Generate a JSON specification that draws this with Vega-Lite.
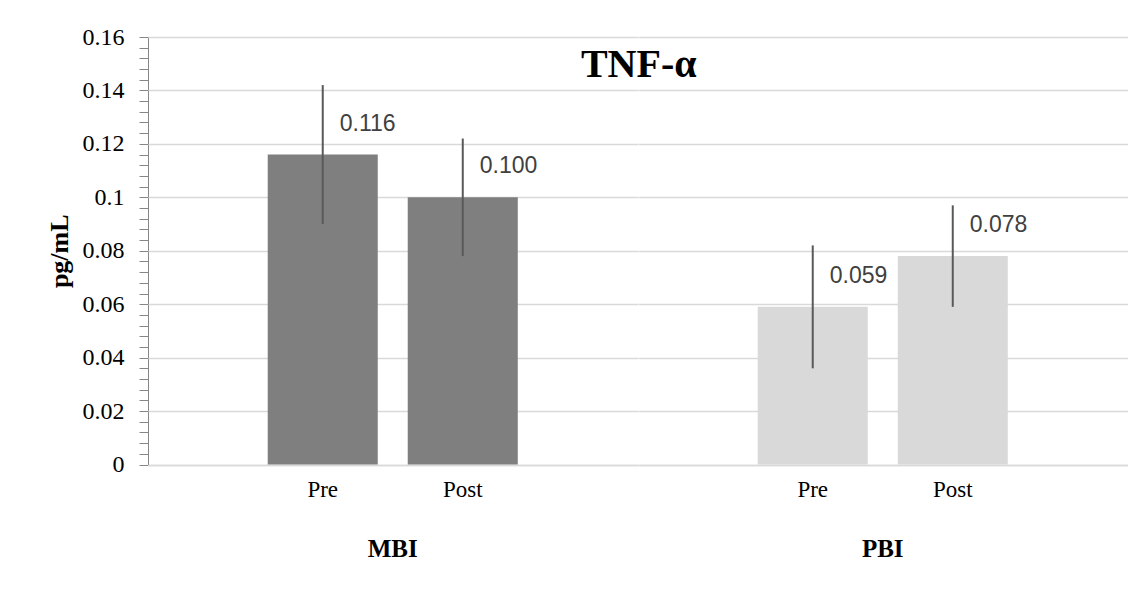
{
  "$schema": "https://vega.github.io/schema/vega-lite/v6.json",
  "padding": {"left": 46, "top": 25, "right": 5, "bottom": 5},
  "background": "white",
  "data": {"values": [
    {"group": "MBI", "cond": "Pre", "mean": 0.116, "lo": 0.090, "hi": 0.142},
    {"group": "MBI", "cond": "Post", "mean": 0.100, "lo": 0.078, "hi": 0.122},
    {"group": "PBI", "cond": "Pre", "mean": 0.059, "lo": 0.036, "hi": 0.082},
    {"group": "PBI", "cond": "Post", "mean": 0.078, "lo": 0.059, "hi": 0.097}
  ]},
  "title": {"text": "TNF-α", "font": "Liberation Serif", "fontSize": 40, "fontWeight": "bold", "color": "#000000", "anchor": "middle", "offset": -60, "dx": 52},
  "facet": {
    "column": {
      "field": "group", "type": "nominal", "sort": ["MBI", "PBI"],
      "header": {"title": null, "labelOrient": "bottom", "labelFont": "Liberation Serif", "labelFontSize": 25, "labelFontWeight": "bold", "labelColor": "#000000", "labelPadding": 36}
    }
  },
  "spacing": 0,
  "spec": {
    "width": 489.5,
    "height": 427.5,
    "encoding": {
      "x": {
        "field": "cond", "type": "nominal", "sort": ["Pre", "Post"],
        "scale": {"paddingInner": 0.214, "paddingOuter": 0.855},
        "axis": {"title": null, "labelAngle": 0, "labelFont": "Liberation Serif", "labelFontSize": 23, "labelColor": "#000000", "ticks": false, "tickSize": 0, "labelPadding": 13, "domainColor": "#d9d9d9", "domainWidth": 1.5}
      }
    },
    "layer": [
      {
        "mark": {"type": "bar"},
        "encoding": {
          "y": {
            "field": "mean", "type": "quantitative", "title": "pg/mL",
            "scale": {"domain": [0, 0.16], "nice": false},
            "axis": {
              "values": [0,0.004,0.008,0.012,0.016,0.02,0.024,0.028,0.032,0.036,0.04,0.044,0.048,0.052,0.056,0.06,0.064,0.068,0.072,0.076,0.08,0.084,0.088,0.092,0.096,0.1,0.104,0.108,0.112,0.116,0.12,0.124,0.128,0.132,0.136,0.14,0.144,0.148,0.152,0.156,0.16],
              "labelExpr": "abs(datum.value*50-round(datum.value*50))<1e-6 ? format(datum.value, '.2~f') : ''",
              "gridOpacity": {"condition": {"test": "abs(datum.value*50-round(datum.value*50))<1e-6", "value": 1}, "value": 0}
            }
          },
          "color": {"field": "group", "type": "nominal", "scale": {"domain": ["MBI", "PBI"], "range": ["#7f7f7f", "#d9d9d9"]}, "legend": null}
        }
      },
      {
        "mark": {"type": "rule", "color": "#595959", "strokeWidth": 2},
        "encoding": {
          "y": {"field": "lo", "type": "quantitative", "title": "pg/mL",
            "axis": {
              "values": [0,0.004,0.008,0.012,0.016,0.02,0.024,0.028,0.032,0.036,0.04,0.044,0.048,0.052,0.056,0.06,0.064,0.068,0.072,0.076,0.08,0.084,0.088,0.092,0.096,0.1,0.104,0.108,0.112,0.116,0.12,0.124,0.128,0.132,0.136,0.14,0.144,0.148,0.152,0.156,0.16],
              "labelExpr": "abs(datum.value*50-round(datum.value*50))<1e-6 ? format(datum.value, '.2~f') : ''",
              "gridOpacity": {"condition": {"test": "abs(datum.value*50-round(datum.value*50))<1e-6", "value": 1}, "value": 0}
            }},
          "y2": {"field": "hi"}
        }
      },
      {
        "mark": {"type": "text", "align": "left", "baseline": "middle", "dx": 17, "dy": -31, "font": "Liberation Sans", "fontSize": 23, "color": "#404040"},
        "encoding": {
          "y": {"field": "mean", "type": "quantitative", "title": "pg/mL",
            "axis": {
              "values": [0,0.004,0.008,0.012,0.016,0.02,0.024,0.028,0.032,0.036,0.04,0.044,0.048,0.052,0.056,0.06,0.064,0.068,0.072,0.076,0.08,0.084,0.088,0.092,0.096,0.1,0.104,0.108,0.112,0.116,0.12,0.124,0.128,0.132,0.136,0.14,0.144,0.148,0.152,0.156,0.16],
              "labelExpr": "abs(datum.value*50-round(datum.value*50))<1e-6 ? format(datum.value, '.2~f') : ''",
              "gridOpacity": {"condition": {"test": "abs(datum.value*50-round(datum.value*50))<1e-6", "value": 1}, "value": 0}
            }},
          "text": {"field": "mean", "type": "quantitative", "format": ".3f"}
        }
      }
    ]
  },
  "config": {
    "view": {"stroke": null},
    "axisY": {
      "titleFont": "Liberation Serif", "titleFontSize": 26, "titleFontWeight": "bold", "titleColor": "#000000", "titlePadding": 10,
      "labelFont": "Liberation Serif", "labelFontSize": 24, "labelColor": "#000000", "labelPadding": 15, "labelOverlap": false,
      "tickSize": 9, "tickColor": "#868686", "domainColor": "#868686",
      "gridColor": "#d9d9d9", "gridWidth": 1.5
    }
  }
}
